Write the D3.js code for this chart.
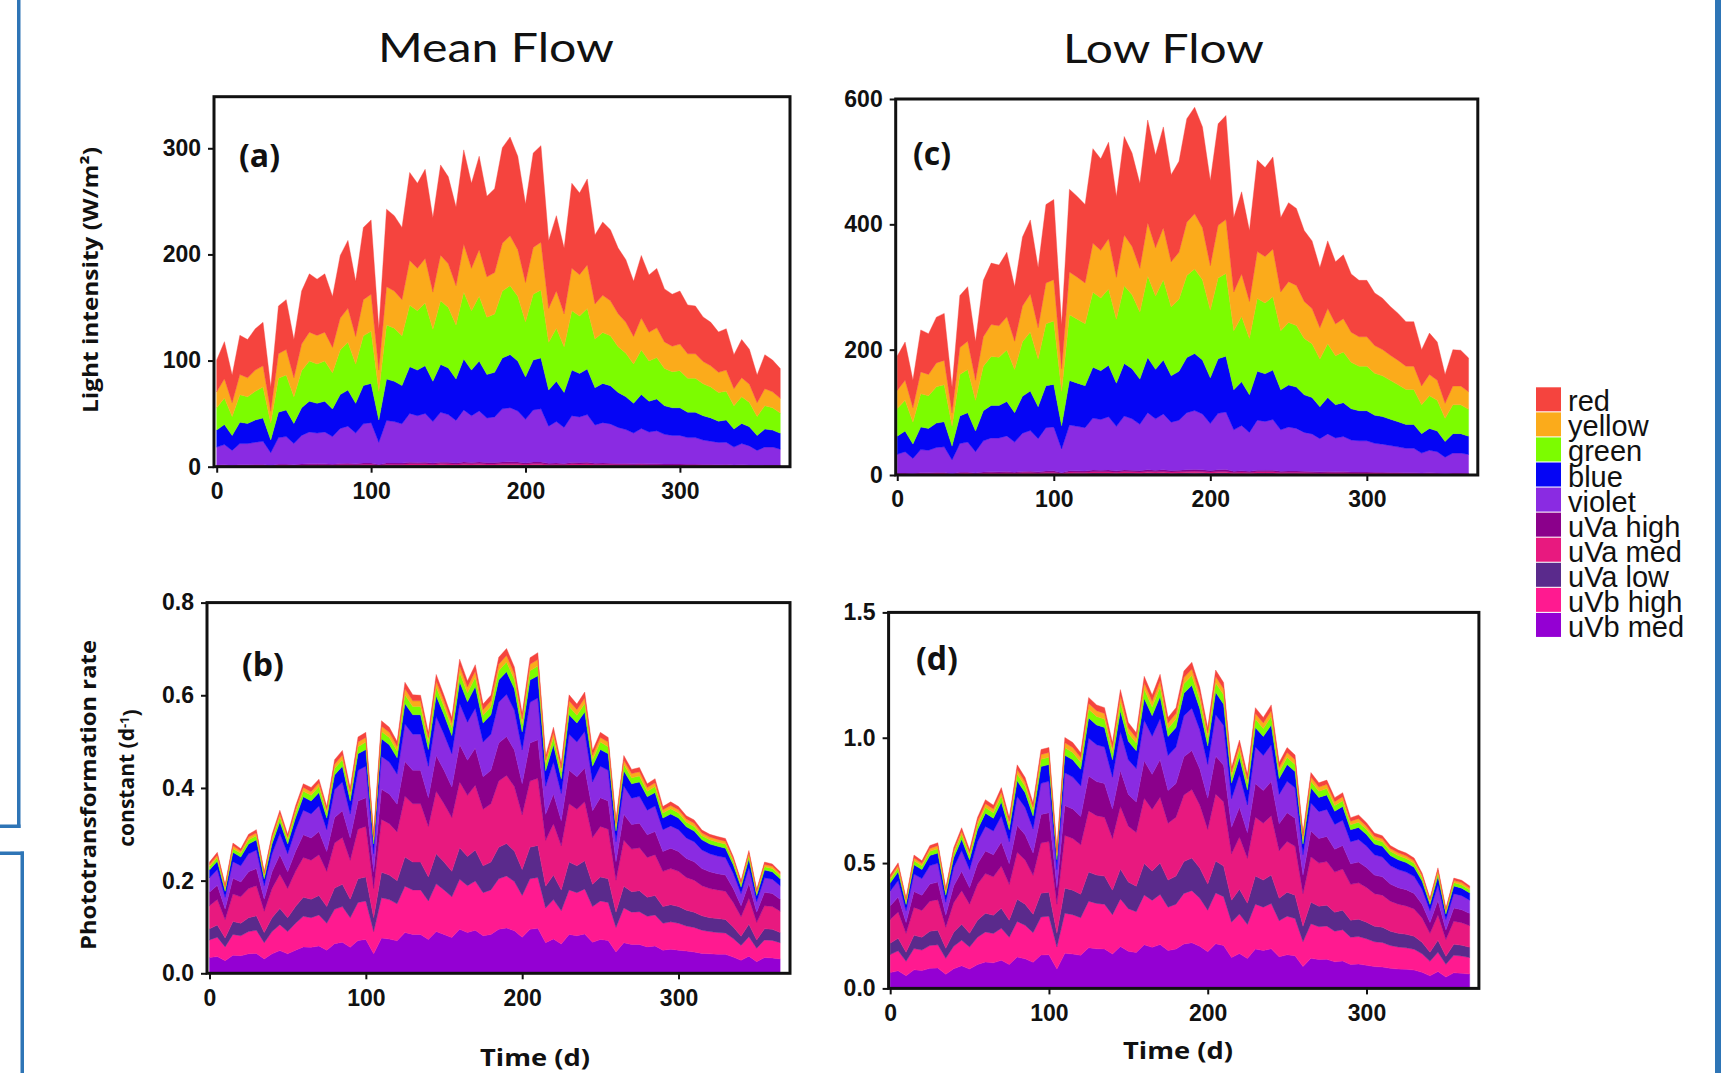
<!DOCTYPE html>
<html>
<head>
<meta charset="utf-8">
<script src="https://cdn.jsdelivr.net/npm/d3@7"></script>
<style>
  body { margin: 0; background: #fff; }
  svg { display: block; }
</style>
</head>
<body>
<div id="root"></div>
<script>
// day of year, one point every 5 days
const days = [0,5,10,15,20,25,30,35,40,45,50,55,60,65,70,75,80,85,90,95,100,105,110,115,120,125,130,135,140,145,150,155,160,165,170,175,180,185,190,195,200,205,210,215,220,225,230,235,240,245,250,255,260,265,270,275,280,285,290,295,300,305,310,315,320,325,330,335,340,345,350,355,360,365];

// stack order, bottom to top
const bandKeys = ["uVb med","uVb high","uVa low","uVa med","uVa high","violet","blue","green","yellow","red"];
const bandColors = {
  "red": "#f5443e", "yellow": "#fbab1b", "green": "#7cfc00", "blue": "#0505f5", "violet": "#8a2be2",
  "uVa high": "#8b008b", "uVa med": "#e8197f", "uVa low": "#5a2a8c", "uVb high": "#ff1a90", "uVb med": "#9400d3"
};

// (a) mean flow, light intensity (W/m2)
const aRed = [30,35,26,37,36,39,41,23,45,47,36,50,55,53,55,48,59,64,52,68,70,39,73,71,68,83,80,84,70,85,82,74,89,80,88,76,79,90,93,88,74,89,91,64,71,62,80,77,81,65,69,67,62,59,52,59,54,56,50,49,50,46,45,42,41,38,39,32,36,33,26,32,30,28];
const aYellow = [15,18,13,19,18,20,20,11,23,24,18,25,27,27,27,24,30,32,26,34,35,20,36,35,34,42,40,42,35,43,41,37,45,40,44,38,39,45,47,44,37,44,45,32,35,31,40,39,41,33,35,33,31,29,26,30,27,28,25,24,25,23,23,21,20,19,20,16,18,17,13,16,15,14];
const aGreen = [21,25,18,26,25,27,29,16,32,33,25,35,38,37,38,34,42,45,37,47,49,27,51,50,47,58,56,59,49,60,57,51,63,56,61,54,55,63,65,61,52,62,64,45,50,43,56,54,57,46,48,47,43,41,37,42,38,39,35,34,35,32,32,30,29,27,27,22,25,23,18,22,21,19];
const aBlue = [16,19,14,20,19,21,22,12,24,25,19,26,29,28,29,26,32,34,28,36,37,21,39,38,36,44,43,45,38,45,44,39,48,43,47,41,42,48,50,47,40,47,48,34,38,33,43,41,43,35,37,36,33,31,28,32,29,30,27,26,26,24,24,23,22,20,21,17,19,18,14,17,16,15];
const aViolet = [17,19,14,20,20,21,22,12,25,26,20,27,30,29,30,26,33,35,29,37,38,21,40,39,37,46,44,46,39,47,45,40,49,44,48,42,43,50,51,48,41,49,50,35,39,34,44,43,45,36,38,37,34,32,29,33,30,31,28,27,27,25,25,23,22,21,21,17,20,18,14,17,17,15];
const aUvaHigh = [.5,.6,.4,.6,.6,.7,.7,.4,.8,.8,.6,.8,.9,.9,.9,.8,1,1.1,.9,1.1,1.2,.7,1.2,1.2,1.1,1.4,1.3,1.4,1.2,1.4,1.4,1.2,1.5,1.3,1.5,1.3,1.3,1.5,1.6,1.5,1.2,1.5,1.5,1.1,1.2,1,1.3,1.3,1.4,1.1,1.2,1.1,1,1,.9,1,.9,.9,.8,.8,.8,.8,.8,.7,.7,.6,.7,.5,.6,.6,.4,.5,.5,.5];
const aUvaMed = [.4,.5,.3,.5,.5,.5,.5,.3,.6,.6,.5,.7,.7,.7,.7,.6,.8,.9,.7,.9,.9,.5,1,.9,.9,1.1,1.1,1.1,.9,1.1,1.1,1,1.2,1.1,1.2,1,1,1.2,1.2,1.2,1,1.2,1.2,.9,.9,.8,1.1,1,1.1,.9,.9,.9,.8,.8,.7,.8,.7,.7,.7,.7,.7,.6,.6,.6,.5,.5,.5,.4,.5,.4,.3,.4,.4,.4];
const aUvaLow = [.3,.4,.3,.4,.4,.4,.4,.2,.5,.5,.4,.5,.5,.5,.5,.5,.6,.6,.5,.7,.7,.4,.7,.7,.7,.8,.8,.8,.7,.9,.8,.7,.9,.8,.9,.8,.8,.9,.9,.9,.7,.9,.9,.6,.7,.6,.8,.8,.8,.7,.7,.7,.6,.6,.5,.6,.5,.6,.5,.5,.5,.5,.5,.4,.4,.4,.4,.3,.4,.3,.3,.3,.3,.3];
const aUvbHigh = [.2,.2,.2,.2,.2,.3,.3,.2,.3,.3,.2,.3,.4,.4,.4,.3,.4,.4,.4,.5,.5,.3,.5,.5,.5,.6,.5,.6,.5,.6,.5,.5,.6,.5,.6,.5,.5,.6,.6,.6,.5,.6,.6,.4,.5,.4,.5,.5,.5,.4,.5,.4,.4,.4,.4,.4,.4,.4,.3,.3,.3,.3,.3,.3,.3,.3,.3,.2,.2,.2,.2,.2,.2,.2];
const aUvbMed = [.1,.1,.1,.1,.1,.1,.1,.1,.2,.2,.1,.2,.2,.2,.2,.2,.2,.2,.2,.2,.2,.1,.2,.2,.2,.3,.3,.3,.2,.3,.3,.2,.3,.3,.3,.3,.3,.3,.3,.3,.2,.3,.3,.2,.2,.2,.3,.3,.3,.2,.2,.2,.2,.2,.2,.2,.2,.2,.2,.2,.2,.2,.2,.1,.1,.1,.1,.1,.1,.1,.1,.1,.1,.1];

// (c) low flow, light intensity (W/m2)
const cRed = [55,61,44,67,65,73,75,41,83,87,62,90,98,97,103,87,110,118,96,125,128,70,132,129,125,151,146,154,129,157,149,135,164,148,161,139,145,165,170,161,136,162,166,119,131,113,146,142,147,119,126,123,113,108,96,108,99,102,93,90,90,84,82,78,75,71,71,58,66,61,46,58,57,54];
const cYellow = [29,32,23,35,34,38,39,21,43,45,32,47,51,50,53,45,57,61,50,65,66,36,68,67,65,78,76,80,67,81,77,70,85,77,83,72,75,85,88,83,71,84,86,62,68,59,75,74,76,62,65,64,59,56,50,56,51,53,48,47,47,44,42,40,39,37,37,30,34,32,24,30,30,28];
const cGreen = [44,49,35,53,52,58,59,32,66,69,49,71,78,77,82,69,87,94,76,99,101,55,105,102,99,120,116,122,102,124,118,107,130,117,128,110,115,131,135,128,108,129,132,94,104,90,116,113,117,94,100,98,90,86,76,86,78,81,74,71,71,67,65,62,59,56,56,46,52,49,37,46,46,43];
const cBlue = [29,33,23,36,35,39,40,22,44,47,33,48,52,52,55,47,59,63,51,67,68,37,71,69,67,81,78,82,69,84,80,72,88,79,86,74,78,88,91,86,73,87,89,64,70,60,78,76,79,64,67,66,60,58,51,58,53,54,50,48,48,45,44,42,40,38,38,31,35,33,25,31,31,29];
const cViolet = [30,34,24,37,36,40,41,22,46,48,34,50,54,54,57,48,61,65,53,69,70,38,73,71,69,83,81,85,71,86,82,74,91,82,89,77,80,91,94,89,75,90,92,66,72,62,80,78,81,66,70,68,62,60,53,60,54,56,51,50,50,46,45,43,41,39,39,32,36,34,26,32,32,30];
const cUvaHigh = [1,1.1,.8,1.2,1.1,1.3,1.3,.7,1.4,1.5,1.1,1.6,1.7,1.7,1.8,1.5,1.9,2,1.7,2.2,2.2,1.2,2.3,2.2,2.2,2.6,2.5,2.7,2.2,2.7,2.6,2.3,2.8,2.6,2.8,2.4,2.5,2.8,2.9,2.8,2.4,2.8,2.9,2.1,2.3,2,2.5,2.5,2.5,2.1,2.2,2.1,2,1.9,1.7,1.9,1.7,1.8,1.6,1.6,1.6,1.5,1.4,1.3,1.3,1.2,1.2,1,1.1,1.1,.8,1,1,.9];
const cUvaMed = [.8,.8,.6,.9,.9,1,1,.6,1.1,1.2,.9,1.2,1.4,1.3,1.4,1.2,1.5,1.6,1.3,1.7,1.8,1,1.8,1.8,1.7,2.1,2,2.1,1.8,2.2,2.1,1.9,2.3,2,2.2,1.9,2,2.3,2.3,2.2,1.9,2.2,2.3,1.6,1.8,1.6,2,2,2,1.6,1.7,1.7,1.6,1.5,1.3,1.5,1.4,1.4,1.3,1.2,1.2,1.2,1.1,1.1,1,1,1,.8,.9,.8,.6,.8,.8,.7];
const cUvaLow = [.6,.6,.5,.7,.7,.8,.8,.4,.9,.9,.6,.9,1,1,1.1,.9,1.1,1.2,1,1.3,1.3,.7,1.4,1.3,1.3,1.6,1.5,1.6,1.3,1.6,1.5,1.4,1.7,1.5,1.7,1.4,1.5,1.7,1.8,1.7,1.4,1.7,1.7,1.2,1.4,1.2,1.5,1.5,1.5,1.2,1.3,1.3,1.2,1.1,1,1.1,1,1.1,1,.9,.9,.9,.8,.8,.8,.7,.7,.6,.7,.6,.5,.6,.6,.6];
const cUvbHigh = [.4,.4,.3,.5,.5,.5,.5,.3,.6,.6,.4,.6,.7,.7,.7,.6,.8,.8,.7,.9,.9,.5,.9,.9,.9,1,1,1.1,.9,1.1,1,.9,1.1,1,1.1,1,1,1.1,1.2,1.1,.9,1.1,1.1,.8,.9,.8,1,1,1,.8,.9,.9,.8,.7,.7,.7,.7,.7,.6,.6,.6,.6,.6,.5,.5,.5,.5,.4,.5,.4,.3,.4,.4,.4];
const cUvbMed = [.2,.2,.2,.2,.2,.3,.3,.1,.3,.3,.2,.3,.3,.3,.4,.3,.4,.4,.3,.4,.4,.2,.5,.4,.4,.5,.5,.5,.4,.5,.5,.5,.6,.5,.6,.5,.5,.6,.6,.6,.5,.6,.6,.4,.5,.4,.5,.5,.5,.4,.4,.4,.4,.4,.3,.4,.3,.4,.3,.3,.3,.3,.3,.3,.3,.2,.2,.2,.2,.2,.2,.2,.2,.2];

// (b) mean flow, phototransformation rate constant (1/d)
const bRed = [.005,.006,.004,.006,.005,.006,.007,.004,.006,.007,.006,.008,.008,.009,.008,.007,.010,.010,.008,.011,.011,.006,.012,.011,.010,.014,.013,.012,.010,.014,.012,.011,.015,.013,.014,.012,.012,.015,.015,.014,.011,.014,.015,.009,.011,.009,.013,.012,.013,.010,.011,.010,.007,.010,.009,.009,.008,.009,.007,.008,.007,.007,.007,.006,.006,.006,.006,.005,.004,.005,.004,.005,.005,.004];
const bYellow = [.005,.005,.004,.006,.005,.006,.006,.004,.006,.007,.006,.007,.008,.008,.008,.007,.009,.010,.008,.010,.010,.006,.011,.011,.010,.013,.012,.012,.010,.013,.012,.011,.014,.013,.013,.012,.012,.014,.014,.013,.011,.014,.014,.009,.011,.009,.012,.012,.012,.010,.010,.010,.007,.009,.009,.009,.008,.008,.007,.007,.007,.007,.007,.006,.006,.006,.006,.005,.004,.005,.004,.005,.005,.004];
const bGreen = [.007,.008,.006,.008,.008,.009,.009,.007,.009,.011,.009,.011,.012,.012,.013,.011,.014,.014,.012,.015,.016,.009,.016,.016,.015,.019,.018,.018,.016,.019,.018,.017,.020,.019,.020,.017,.018,.020,.021,.020,.017,.020,.021,.014,.016,.014,.018,.017,.018,.014,.016,.015,.010,.014,.013,.013,.012,.013,.011,.011,.011,.010,.010,.009,.009,.009,.009,.008,.006,.008,.005,.007,.007,.007];
const bBlue = [.017,.018,.013,.020,.019,.021,.022,.015,.021,.025,.021,.025,.029,.028,.029,.025,.032,.034,.028,.036,.036,.021,.038,.037,.035,.044,.042,.042,.036,.045,.042,.039,.047,.044,.047,.041,.042,.048,.049,.046,.039,.048,.048,.033,.037,.032,.042,.041,.042,.034,.036,.036,.023,.033,.031,.031,.029,.029,.025,.026,.025,.024,.023,.022,.021,.021,.020,.018,.014,.019,.013,.017,.016,.015];
const bViolet = [.031,.034,.025,.036,.035,.039,.040,.029,.039,.046,.039,.047,.053,.052,.055,.047,.060,.062,.052,.066,.068,.039,.071,.069,.065,.081,.078,.078,.068,.084,.078,.072,.088,.082,.086,.075,.078,.088,.091,.086,.073,.088,.090,.061,.069,.059,.078,.075,.079,.062,.068,.066,.043,.061,.057,.058,.053,.055,.047,.048,.047,.044,.043,.040,.039,.038,.038,.033,.026,.034,.023,.031,.031,.029];
const bUvaHigh = [.029,.031,.023,.034,.032,.036,.037,.026,.036,.042,.036,.043,.049,.048,.050,.043,.055,.058,.048,.061,.062,.036,.065,.064,.060,.075,.072,.072,.062,.077,.072,.066,.081,.076,.080,.070,.072,.082,.084,.079,.067,.082,.083,.056,.064,.054,.072,.070,.073,.058,.062,.061,.040,.056,.053,.053,.049,.050,.043,.044,.043,.041,.040,.037,.036,.035,.035,.030,.024,.032,.022,.029,.028,.026];
const bUvaMed = [.050,.055,.040,.059,.057,.063,.065,.046,.063,.074,.063,.076,.086,.084,.088,.076,.097,.101,.084,.107,.109,.063,.114,.111,.105,.131,.126,.126,.109,.135,.126,.116,.142,.132,.140,.122,.126,.143,.147,.139,.118,.143,.145,.099,.111,.095,.126,.122,.127,.101,.109,.107,.069,.099,.092,.093,.086,.088,.076,.078,.076,.071,.069,.065,.063,.062,.061,.053,.042,.056,.038,.050,.049,.046];
const bUvaLow = [.024,.026,.019,.028,.027,.030,.031,.022,.030,.035,.030,.036,.041,.040,.042,.036,.046,.048,.040,.051,.052,.030,.055,.053,.050,.063,.060,.060,.052,.065,.060,.055,.068,.063,.067,.058,.060,.068,.070,.066,.056,.068,.069,.047,.053,.045,.060,.058,.061,.048,.052,.051,.033,.047,.044,.045,.041,.042,.036,.037,.036,.034,.033,.031,.030,.030,.029,.025,.020,.027,.018,.024,.024,.022];
const bUvbHigh = [.038,.042,.030,.045,.043,.048,.050,.035,.048,.056,.048,.058,.066,.064,.067,.058,.074,.077,.064,.082,.083,.048,.087,.085,.080,.100,.096,.096,.083,.103,.096,.088,.108,.101,.106,.093,.096,.109,.112,.106,.090,.109,.110,.075,.085,.072,.096,.093,.097,.077,.083,.082,.053,.075,.070,.071,.066,.067,.058,.059,.058,.054,.053,.050,.048,.047,.046,.040,.032,.042,.029,.038,.038,.035];
const bUvbMed = [.034,.036,.027,.039,.038,.042,.043,.031,.042,.049,.042,.050,.057,.056,.059,.050,.064,.067,.056,.071,.073,.042,.076,.074,.070,.088,.084,.084,.073,.090,.084,.077,.095,.088,.093,.081,.084,.095,.098,.092,.078,.095,.097,.066,.074,.063,.084,.081,.085,.067,.073,.071,.046,.066,.062,.062,.057,.059,.050,.052,.050,.048,.046,.043,.042,.041,.041,.035,.028,.037,.025,.034,.033,.031];

// (d) low flow, phototransformation rate constant (1/d)
const dRed = [.010,.011,.007,.012,.010,.012,.012,.008,.012,.014,.012,.015,.016,.015,.017,.014,.019,.018,.015,.020,.020,.011,.021,.020,.019,.024,.023,.023,.020,.025,.022,.021,.026,.024,.026,.022,.023,.026,.027,.025,.021,.026,.025,.018,.020,.018,.023,.022,.023,.019,.020,.019,.013,.018,.017,.017,.016,.016,.014,.015,.014,.013,.012,.012,.011,.011,.011,.009,.007,.010,.006,.009,.009,.008];
const dYellow = [.009,.010,.007,.011,.010,.011,.012,.008,.011,.013,.011,.014,.015,.015,.016,.014,.018,.017,.015,.019,.019,.011,.020,.020,.019,.023,.023,.022,.020,.024,.021,.020,.025,.023,.025,.022,.022,.025,.026,.024,.021,.025,.024,.018,.020,.017,.022,.022,.023,.018,.019,.019,.012,.017,.016,.017,.015,.016,.014,.014,.013,.012,.012,.011,.011,.011,.010,.009,.007,.010,.006,.009,.009,.008];
const dGreen = [.014,.015,.011,.016,.015,.017,.017,.012,.017,.019,.017,.020,.023,.022,.024,.020,.027,.025,.022,.029,.029,.017,.030,.029,.028,.035,.034,.034,.029,.036,.032,.031,.037,.035,.038,.032,.034,.038,.039,.036,.031,.038,.037,.026,.030,.026,.034,.032,.034,.027,.029,.028,.019,.026,.025,.025,.023,.023,.020,.021,.020,.019,.018,.017,.017,.016,.016,.014,.011,.014,.010,.013,.013,.012];
const dBlue = [.032,.035,.025,.037,.036,.040,.041,.028,.039,.045,.039,.048,.053,.051,.056,.048,.062,.059,.052,.067,.067,.039,.070,.069,.066,.081,.079,.078,.069,.083,.074,.071,.087,.082,.088,.076,.078,.089,.091,.084,.073,.089,.085,.062,.069,.060,.078,.076,.079,.063,.067,.065,.043,.060,.057,.058,.053,.055,.048,.048,.046,.043,.043,.040,.039,.038,.036,.032,.025,.034,.022,.031,.030,.029];
const dViolet = [.059,.065,.047,.069,.066,.074,.075,.052,.073,.083,.072,.088,.098,.095,.104,.088,.116,.109,.096,.124,.125,.072,.130,.127,.122,.151,.147,.146,.127,.155,.138,.133,.162,.152,.163,.140,.146,.164,.169,.156,.135,.165,.159,.114,.129,.111,.146,.140,.147,.117,.125,.121,.081,.112,.107,.108,.099,.101,.088,.090,.086,.081,.079,.074,.072,.070,.068,.060,.047,.062,.042,.057,.056,.053];
const dUvaHigh = [.054,.060,.043,.064,.061,.068,.070,.048,.067,.077,.066,.082,.090,.088,.096,.082,.107,.101,.089,.114,.115,.066,.120,.118,.113,.139,.136,.134,.118,.143,.127,.122,.149,.140,.150,.130,.134,.152,.156,.144,.125,.152,.146,.106,.119,.102,.134,.130,.136,.108,.115,.112,.074,.103,.098,.100,.091,.094,.082,.083,.079,.074,.073,.068,.066,.065,.062,.055,.043,.058,.038,.053,.052,.049];
const dUvaMed = [.095,.105,.076,.111,.107,.120,.122,.084,.118,.134,.116,.143,.158,.153,.168,.143,.187,.176,.155,.200,.202,.116,.210,.206,.197,.244,.237,.235,.206,.250,.223,.214,.261,.246,.263,.227,.235,.266,.273,.252,.218,.267,.256,.185,.208,.179,.235,.227,.237,.189,.202,.195,.130,.181,.172,.174,.160,.164,.143,.145,.139,.130,.128,.120,.116,.113,.109,.097,.076,.101,.067,.092,.090,.086];
const dUvaLow = [.045,.050,.036,.053,.051,.057,.058,.040,.056,.064,.055,.068,.075,.073,.080,.068,.089,.084,.074,.095,.096,.055,.100,.098,.094,.116,.113,.112,.098,.119,.106,.102,.125,.117,.125,.108,.112,.127,.130,.120,.104,.127,.122,.088,.099,.085,.112,.108,.113,.090,.096,.093,.062,.086,.082,.083,.076,.078,.068,.069,.066,.062,.061,.057,.055,.054,.052,.046,.036,.048,.032,.044,.043,.041];
const dUvbHigh = [.072,.080,.058,.085,.082,.091,.093,.064,.090,.102,.088,.109,.120,.117,.128,.109,.142,.134,.118,.152,.154,.088,.160,.157,.150,.186,.181,.179,.157,.190,.170,.163,.199,.187,.200,.173,.179,.202,.208,.192,.166,.203,.195,.141,.158,.136,.179,.173,.181,.144,.154,.149,.099,.138,.131,.133,.122,.125,.109,.110,.106,.099,.098,.091,.088,.086,.083,.074,.058,.077,.051,.070,.069,.066];
const dUvbMed = [.063,.070,.050,.074,.071,.080,.081,.056,.078,.090,.077,.095,.105,.102,.112,.095,.125,.118,.104,.133,.134,.077,.140,.137,.132,.162,.158,.157,.137,.167,.148,.143,.174,.164,.175,.151,.157,.177,.182,.168,.146,.178,.171,.123,.139,.119,.157,.151,.158,.126,.134,.130,.087,.120,.115,.116,.106,.109,.095,.097,.092,.087,.085,.080,.077,.076,.073,.064,.050,.067,.045,.062,.060,.057];

const width = 1721, height = 1073;
const tickFont = "'Liberation Sans', Arial, sans-serif";
const labelFont = "'Open Sans', 'DejaVu Sans', sans-serif";

const svg = d3.select("#root").append("svg")
    .attr("width", width)
    .attr("height", height);

svg.append("rect").attr("width", width).attr("height", height).attr("fill", "#fff");

const panels = [
  { tag: "(a)", tagPos: [239, 167],
    series: {"red": aRed, "yellow": aYellow, "green": aGreen, "blue": aBlue, "violet": aViolet,
             "uVa high": aUvaHigh, "uVa med": aUvaMed, "uVa low": aUvaLow, "uVb high": aUvbHigh, "uVb med": aUvbMed},
    left: 214, right: 790, top: 96.7, bottom: 466.7, xDomain: [-1.75, 371.3], yTop: 348.6,
    yTicks: [0, 100, 200, 300], fmt: d3.format("d") },
  { tag: "(b)", tagPos: [242, 676],
    series: {"red": bRed, "yellow": bYellow, "green": bGreen, "blue": bBlue, "violet": bViolet,
             "uVa high": bUvaHigh, "uVa med": bUvaMed, "uVa low": bUvaLow, "uVb high": bUvbHigh, "uVb med": bUvbMed},
    left: 207, right: 790, top: 602.6, bottom: 973.3, xDomain: [-1.6, 371.3], yTop: 0.8,
    yTicks: [0, 0.2, 0.4, 0.6, 0.8], fmt: d3.format(".1f") },
  { tag: "(c)", tagPos: [913, 165],
    series: {"red": cRed, "yellow": cYellow, "green": cGreen, "blue": cBlue, "violet": cViolet,
             "uVa high": cUvaHigh, "uVa med": cUvaMed, "uVa low": cUvaLow, "uVb high": cUvbHigh, "uVb med": cUvbMed},
    left: 895.7, right: 1477.8, top: 99, bottom: 475, xDomain: [-1.0, 370.9], yTop: 600,
    yTicks: [0, 200, 400, 600], fmt: d3.format("d") },
  { tag: "(d)", tagPos: [916, 670],
    series: {"red": dRed, "yellow": dYellow, "green": dGreen, "blue": dBlue, "violet": dViolet,
             "uVa high": dUvaHigh, "uVa med": dUvaMed, "uVa low": dUvaLow, "uVb high": dUvbHigh, "uVb med": dUvbMed},
    left: 888.6, right: 1478.9, top: 612.4, bottom: 988.4, xDomain: [-1.0, 370.8], yTop: 1.5,
    yTicks: [0, 0.5, 1.0, 1.5], fmt: d3.format(".1f") }
];

function styleAxis(g) {
  g.select(".domain").remove();
  g.selectAll(".tick line").attr("stroke", "#111").attr("stroke-width", 2);
  g.selectAll(".tick text")
    .attr("fill", "#111")
    .style("font-family", tickFont)
    .style("font-weight", "bold")
    .style("font-size", "23px");
}

panels.forEach(p => {
  const x = d3.scaleLinear().domain(p.xDomain).range([p.left, p.right]);
  const y = d3.scaleLinear().domain([0, p.yTop]).range([p.bottom, p.top]);

  const rows = days.map((d, i) => {
    const row = {day: d};
    bandKeys.forEach(k => { row[k] = p.series[k][i]; });
    return row;
  });
  const stacked = d3.stack().keys(bandKeys)(rows);

  const area = d3.area()
      .x(d => x(d.data.day))
      .y0(d => y(d[0]))
      .y1(d => y(d[1]));

  const g = svg.append("g");
  g.selectAll("path")
    .data(stacked)
    .enter()
    .append("path")
    .attr("d", area)
    .attr("fill", d => bandColors[d.key])
    .attr("stroke", d => bandColors[d.key])
    .attr("stroke-width", 0.4);

  svg.append("g")
      .attr("transform", "translate(0," + p.bottom + ")")
      .call(d3.axisBottom(x).tickValues([0, 100, 200, 300]).tickFormat(d3.format("d")).tickSize(6).tickPadding(10))
      .call(styleAxis);

  svg.append("g")
      .attr("transform", "translate(" + p.left + ",0)")
      .call(d3.axisLeft(y).tickValues(p.yTicks).tickFormat(p.fmt).tickSize(6).tickPadding(7))
      .call(styleAxis);

  // frame
  svg.append("rect")
      .attr("x", p.left)
      .attr("y", p.top)
      .attr("width", p.right - p.left)
      .attr("height", p.bottom - p.top)
      .attr("fill", "none")
      .attr("stroke", "#111")
      .attr("stroke-width", 3);

  svg.append("text")
      .attr("x", p.tagPos[0])
      .attr("y", p.tagPos[1])
      .text(p.tag)
      .style("font-family", labelFont)
      .style("font-weight", "bold")
      .style("font-size", "32px")
      .attr("fill", "#111");
});

// column titles
[["Mean Flow", 496, 62, 236], ["Low Flow", 1163.5, 63, 201]].forEach(t => {
  svg.append("text")
      .attr("x", t[1])
      .attr("y", t[2])
      .attr("text-anchor", "middle")
      .attr("textLength", t[3])
      .attr("lengthAdjust", "spacingAndGlyphs")
      .style("font-family", "Lato, 'Open Sans', sans-serif")
      .style("font-size", "41px")
      .attr("fill", "#111")
      .text(t[0]);
});

// axis titles
function vertLabel(cx, cy, len, str) {
  return svg.append("text")
      .attr("transform", "translate(" + cx + "," + cy + ") rotate(-90)")
      .attr("text-anchor", "middle")
      .attr("dy", "0.35em")
      .attr("textLength", len)
      .attr("lengthAdjust", "spacingAndGlyphs")
      .style("font-family", labelFont)
      .style("font-weight", "bold")
      .style("font-size", "21px")
      .attr("fill", "#111")
      .text(str);
}
vertLabel(90.5, 280, 266, "Light intensity (W/m²)");
vertLabel(89, 795, 310, "Phototransformation rate");

const constLabel = svg.append("text")
    .attr("transform", "translate(127,778) rotate(-90)")
    .attr("text-anchor", "middle")
    .attr("dy", "0.35em")
    .style("font-family", labelFont)
    .style("font-weight", "bold")
    .style("font-size", "21px")
    .attr("fill", "#111");
constLabel.append("tspan").text("constant (d");
constLabel.append("tspan").attr("dy", "-0.45em").style("font-size", "13px").text("-1");
constLabel.append("tspan").attr("dy", "0.45em").text(")");

[["Time (d)", 535, 1066], ["Time (d)", 1178, 1059]].forEach(t => {
  svg.append("text")
      .attr("x", t[1])
      .attr("y", t[2])
      .attr("text-anchor", "middle")
      .attr("textLength", 110)
      .attr("lengthAdjust", "spacingAndGlyphs")
      .style("font-family", labelFont)
      .style("font-weight", "bold")
      .style("font-size", "24px")
      .attr("fill", "#111")
      .text(t[0]);
});

// legend, top entry is the top band
const legendKeys = bandKeys.slice().reverse();
const legend = svg.selectAll(".legend")
    .data(legendKeys)
    .enter().append("g")
    .attr("class", "legend")
    .attr("transform", (d, i) => "translate(1536," + (387.3 + i * 25.07) + ")");

legend.append("rect")
    .attr("width", 25)
    .attr("height", 24)
    .attr("fill", d => bandColors[d]);

legend.append("text")
    .attr("x", 32)
    .attr("y", 24)
    .style("font-family", tickFont)
    .style("font-size", "29px")
    .attr("fill", "#111")
    .text(d => d);

// slide frame lines around the figure
const frameBlue = "#2e75b6";
[[17, 0, 3.5, 828], [0, 824.5, 20.5, 3.5], [0, 851.5, 24, 3.5], [20.5, 851.5, 3.5, 222], [1715, 0, 6, 1073]].forEach(r => {
  svg.append("rect")
      .attr("x", r[0]).attr("y", r[1])
      .attr("width", r[2]).attr("height", r[3])
      .attr("fill", frameBlue);
});
</script>
</body>
</html>
